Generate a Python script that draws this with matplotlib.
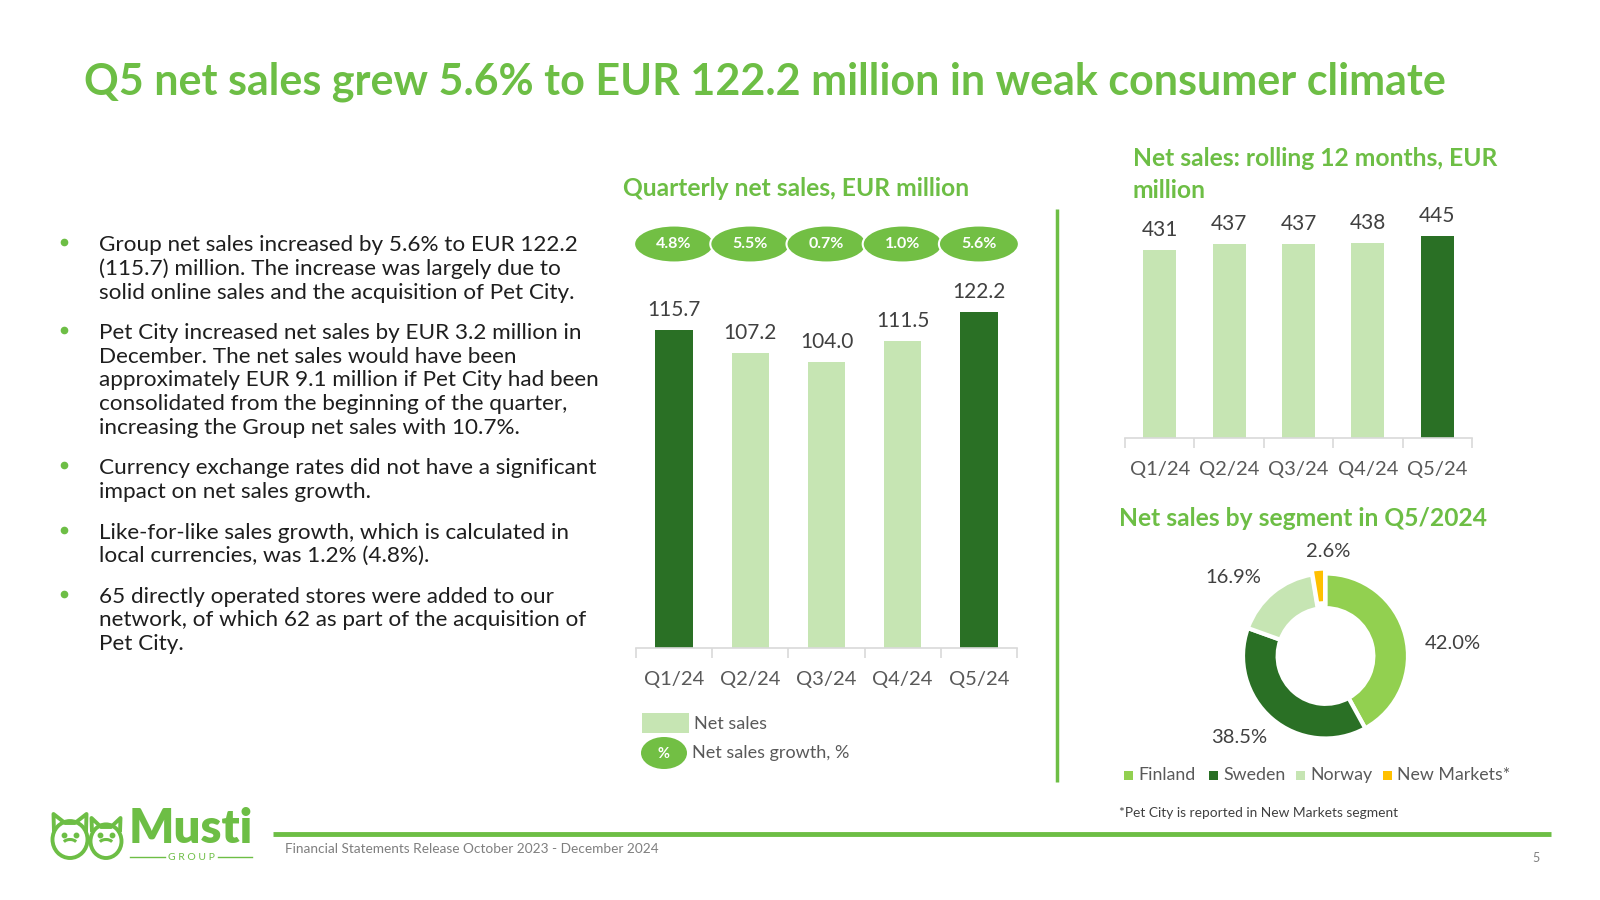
import numpy as np
import matplotlib
matplotlib.use("Agg")
import matplotlib.pyplot as plt
from matplotlib.patches import Ellipse, Rectangle, Arc, Polygon

# ============================================================
# Data
# ============================================================

quarters = ["Q1/24", "Q2/24", "Q3/24", "Q4/24", "Q5/24"]
quarterly_sales = [115.7, 107.2, 104.0, 111.5, 122.2]
quarterly_growth = [4.8, 5.5, 0.7, 1.0, 5.6]
quarterly_highlight = [True, False, False, False, True]

rolling_sales = [431, 437, 437, 438, 445]
rolling_highlight = [False, False, False, False, True]

segments = ["Finland", "Sweden", "Norway", "New Markets*"]
segment_share = [42.0, 38.5, 16.9, 2.6]

title_text = "Q5 net sales grew 5.6% to EUR 122.2 million in weak consumer climate"

bullets = [
    ["Group net sales increased by 5.6% to EUR 122.2",
     "(115.7) million. The increase was largely due to",
     "solid online sales and the acquisition of Pet City."],
    ["Pet City increased net sales by EUR 3.2 million in",
     "December. The net sales would have been",
     "approximately EUR 9.1 million if Pet City had been",
     "consolidated from the beginning of the quarter,",
     "increasing the Group net sales with 10.7%."],
    ["Currency exchange rates did not have a significant",
     "impact on net sales growth."],
    ["Like-for-like sales growth, which is calculated in",
     "local currencies, was 1.2% (4.8%)."],
    ["65 directly operated stores were added to our",
     "network, of which 62 as part of the acquisition of",
     "Pet City."],
]

# ============================================================
# Style
# ============================================================

GREEN = "#6DBE45"
PILL = "#72BF44"
DARK = "#2A7025"
LIGHT = "#C6E5B3"
FIN = "#92D050"
GOLD = "#FFC000"
GREY = "#595959"
AXIS = "#D9D9D9"
TEXT = "#1E1E1E"

plt.rcParams["font.family"] = ["Lato", "DejaVu Sans"]

W, H = 1600, 900
fig = plt.figure(figsize=(16, 9), dpi=100)
fig.patch.set_facecolor("white")


def px_axes(left, top, right, bottom, **kw):
    return fig.add_axes([left / W, 1 - bottom / H,
                         (right - left) / W, (bottom - top) / H], **kw)


# overlay in pixel coordinates for slide texts
ov = px_axes(0, 0, W, H)
ov.set_xlim(0, W)
ov.set_ylim(H, 0)
ov.axis("off")

ov.text(84, 82, title_text, color=GREEN, fontsize=31, fontweight="bold",
        va="center", ha="left")

# ============================================================
# Bullets
# ============================================================

y = 245
line_h = 23.8
for para in bullets:
    ov.plot(64, y - 3, "o", color=GREEN, ms=4.5)
    for line in para:
        ov.text(99, y, line, fontsize=16.2, color=TEXT, va="center", ha="left")
        y += line_h
    y += 16.5

# ============================================================
# Quarterly net sales
# ============================================================

SEC = 17.7
ov.text(623, 188, "Quarterly net sales, EUR million", color=GREEN,
        fontsize=SEC, fontweight="bold", va="center")

ppu = 2.75
ymax = 130
ax1 = px_axes(636, 648 - ppu * ymax, 1017, 648)
ax1.patch.set_visible(False)
x = np.arange(len(quarters))
colors1 = [DARK if h else LIGHT for h in quarterly_highlight]
ax1.bar(x, quarterly_sales, width=0.49, color=colors1)
ax1.set_xlim(-0.5, len(quarters) - 0.5)
ax1.set_ylim(0, ymax)
for i, v in enumerate(quarterly_sales):
    ax1.annotate(f"{v:.1f}", (i, v), xytext=(0, 14.4), textcoords="offset points",
                 ha="center", va="center", fontsize=15, color="#404040")
# growth pills
pill_y = (648 - 244) / ppu
for i, g in enumerate(quarterly_growth):
    ax1.add_patch(Ellipse((i, pill_y), 1.05, 37 / ppu, facecolor=PILL,
                          edgecolor="white", lw=1.5, clip_on=False))
    ax1.text(i, pill_y, f"{g:.1f}%", ha="center", va="center", color="white",
             fontsize=11.5, fontweight="bold", clip_on=False)


def style_cat_axis(ax, labels):
    for s in ["top", "right", "left"]:
        ax.spines[s].set_visible(False)
    ax.spines["bottom"].set_color(AXIS)
    ax.spines["bottom"].set_linewidth(1.2)
    ax.set_yticks([])
    n = len(labels)
    ax.set_xticks(np.arange(-0.5, n, 1.0))
    ax.set_xticklabels([])
    ax.tick_params(axis="x", length=7, color=AXIS, width=1.2)
    ax.set_xticks(np.arange(n), minor=True)
    ax.set_xticklabels(labels, minor=True)
    ax.tick_params(axis="x", which="minor", length=0, pad=16.5,
                   labelsize=14.5, labelcolor=GREY)


style_cat_axis(ax1, quarters)

# legend
ov.add_patch(Rectangle((642, 713), 47, 20, facecolor=LIGHT, edgecolor="none"))
ov.text(694, 724, "Net sales", fontsize=13, color=GREY, va="center")
ov.add_patch(Ellipse((664, 753), 46, 32, facecolor=PILL, edgecolor="none"))
ov.text(664, 754, "%", fontsize=10.5, color="white", fontweight="bold",
        ha="center", va="center")
ov.text(692, 753, "Net sales growth, %", fontsize=13, color=GREY, va="center")

# separator
ov.plot([1057, 1057], [209, 782], color=GREEN, lw=2.5, solid_capstyle="butt")

# ============================================================
# Rolling 12 months
# ============================================================

ov.text(1133, 158, "Net sales: rolling 12 months, EUR", color=GREEN,
        fontsize=SEC, fontweight="bold", va="center")
ov.text(1133, 190, "million", color=GREEN, fontsize=SEC, fontweight="bold",
        va="center")

ymin2, ymax2 = 243, 460
ax2 = px_axes(1125, 438 - (ymax2 - ymin2), 1472, 438)
ax2.patch.set_visible(False)
colors2 = [DARK if h else LIGHT for h in rolling_highlight]
ax2.bar(np.arange(len(quarters)), rolling_sales, width=0.475, color=colors2)
ax2.set_xlim(-0.5, len(quarters) - 0.5)
ax2.set_ylim(ymin2, ymax2)
for i, v in enumerate(rolling_sales):
    ax2.annotate(f"{v}", (i, v), xytext=(0, 14.4), textcoords="offset points",
                 ha="center", va="center", fontsize=15, color="#404040")
style_cat_axis(ax2, quarters)

# ============================================================
# Segment donut
# ============================================================

ov.text(1119, 519, "Net sales by segment in Q5/2024", color=GREEN,
        fontsize=SEC, fontweight="bold", va="center")

r_px = 82.5
cx, cy = 1325.5, 656
ax3 = px_axes(cx - r_px, cy - r_px, cx + r_px, cy + r_px)
seg_colors = [FIN, DARK, LIGHT, GOLD]
wedges, _ = ax3.pie(segment_share, colors=seg_colors, startangle=90,
                    counterclock=False, radius=1.0,
                    explode=[0, 0, 0, 0.06],
                    wedgeprops=dict(width=0.42, edgecolor="white", linewidth=3))
ax3.set_xlim(-1, 1)
ax3.set_ylim(-1, 1)
ax3.set_aspect("equal")
for w in wedges:
    w.set_clip_on(False)

label_dist = [1.55, 1.44, 1.47, 1.27]
label_nudge = [-9, -6, 10, -6]
for w, s, d, n in zip(wedges, segment_share, label_dist, label_nudge):
    ang = np.deg2rad((w.theta1 + w.theta2) / 2 + n)
    ax3.text(d * np.cos(ang), d * np.sin(ang), f"{s:.1f}%", ha="center",
             va="center", fontsize=14.5, color="#404040", clip_on=False)

# legend
leg_x = [1128, 1213, 1300, 1387]
for lx, name, c in zip(leg_x, segments, seg_colors):
    ov.add_patch(Rectangle((lx - 4.5, 770.5), 9, 9, facecolor=c, edgecolor="none"))
    ov.text(lx + 10, 775, name, fontsize=12.8, color=GREY, va="center")

ov.text(1119, 813, "*Pet City is reported in New Markets segment",
        fontsize=9.9, color="#404040", va="center")

# ============================================================
# Footer
# ============================================================

ov.plot([273, 1551], [834, 834], color=GREEN, lw=3.5, solid_capstyle="butt")
ov.text(285, 849, "Financial Statements Release October 2023 - December 2024",
        fontsize=9.8, color="#7F7F7F", va="center")
ov.text(1536, 858, "5", fontsize=9, color="#7F7F7F", va="center", ha="center")

# logo faces
for fx, fw, fh in [(70, 35, 44), (106, 31, 40)]:
    top = 858 - fh
    ov.add_patch(Ellipse((fx, 858 - fh * 0.42), fw, fh * 0.84, facecolor="white",
                         edgecolor=GREEN, lw=2.8))
    ov.add_patch(Polygon([[fx - fw / 2 + 1.5, 832], [fx - fw / 2 + 1, top],
                          [fx - 5, top + 9], [fx + 5, top + 9],
                          [fx + fw / 2 - 1, top], [fx + fw / 2 - 1.5, 832]],
                         closed=False, fill=False, edgecolor=GREEN, lw=2.8,
                         joinstyle="round"))
    ov.plot([fx - 6, fx + 6], [835, 835], "o", color=GREEN, ms=3.2)
    ov.add_patch(Arc((fx, 844), 14, 9, theta1=200, theta2=340,
                     edgecolor=GREEN, lw=2.2))

ov.text(129, 829, "Musti", fontsize=34, fontweight="heavy", color=GREEN,
        va="center", ha="left")
ov.text(191, 857, "G R O U P", fontsize=7.5, color=GREEN, va="center", ha="center")
ov.plot([130, 165], [857, 857], color=GREEN, lw=1)
ov.plot([218, 252], [857, 857], color=GREEN, lw=1)

fig.savefig("out.png", dpi=100, facecolor="white")
